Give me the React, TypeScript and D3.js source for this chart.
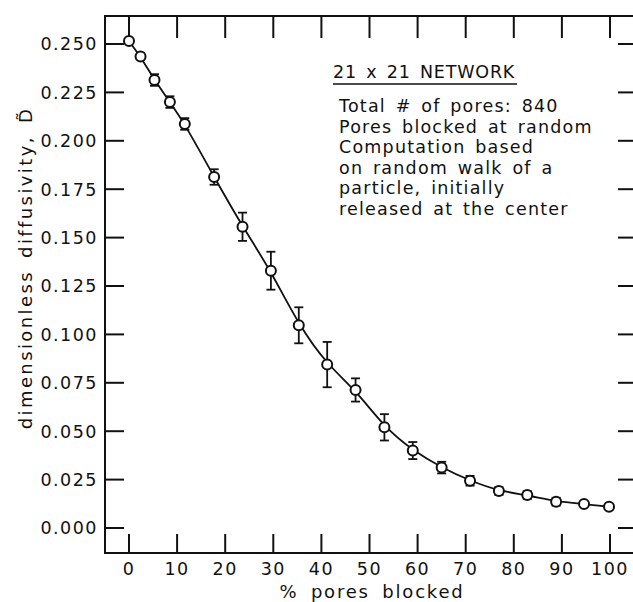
import { useEffect, useRef } from "react";
import * as d3 from "d3";

// values
const pctBlocked = [0, 2.4, 5.3, 8.5, 11.6, 17.7, 23.6, 29.5, 35.3, 41.2, 47.1, 53.1, 59.0, 65.0, 70.9, 76.9, 82.8, 88.8, 94.6, 99.8];
const diffusivity = [0.2515, 0.2435, 0.2314, 0.2200, 0.2087, 0.1813, 0.1556, 0.1329, 0.1047, 0.0844, 0.0713, 0.0520, 0.0400, 0.0312, 0.0244, 0.0191, 0.0170, 0.0136, 0.0124, 0.0110];
const errHalf = [0, 0, 0.003, 0.003, 0.003, 0.004, 0.0073, 0.0098, 0.0093, 0.0117, 0.006, 0.0068, 0.0044, 0.003, 0.0025, 0.002, 0.002, 0.002, 0, 0];

const xTicks = [0, 10, 20, 30, 40, 50, 60, 70, 80, 90, 100];
const yTicks = [0, 0.025, 0.05, 0.075, 0.1, 0.125, 0.15, 0.175, 0.2, 0.225, 0.25];

const noteTitle = "21 x 21 NETWORK";
const noteLines = [
    "Total # of pores: 840",
    "Pores blocked at random",
    "Computation based",
    "on random walk of a",
    "particle, initially",
    "released at the center",
];

export default function App() {
    const ref = useRef<SVGSVGElement>(null);

    useEffect(() => {
        const width = 633;
        const height = 602;
        const font = "'DejaVu Sans', sans-serif";

        const svg = d3.select(ref.current)
            .attr("width", width)
            .attr("height", height);

        svg.selectAll("*").remove();

        // frame edges (right edge sits just past the page)
        const left = 105, top = 16, bottom = 553, right = 637;

        const x = d3.scaleLinear().domain([0, 100]).range([129, 610]);
        const y = d3.scaleLinear().domain([0, 0.25]).range([528, 44]);

        const data = pctBlocked.map((p, i) => ({ p, d: diffusivity[i], e: errHalf[i] }));

        // frame
        svg.append("rect")
            .attr("x", left).attr("y", top)
            .attr("width", right - left).attr("height", bottom - top)
            .attr("fill", "none")
            .attr("stroke", "#111")
            .attr("stroke-width", 2);

        const tickLen = 19;
        const g = svg.append("g").attr("stroke", "#111").attr("stroke-width", 2);

        // x ticks (top and bottom, pointing in)
        g.selectAll(".xt")
            .data(xTicks)
            .join("line")
            .attr("x1", d => x(d)).attr("x2", d => x(d))
            .attr("y1", top).attr("y2", top + tickLen + 3);
        g.selectAll(".xb")
            .data(xTicks)
            .join("line")
            .attr("x1", d => x(d)).attr("x2", d => x(d))
            .attr("y1", bottom).attr("y2", bottom - tickLen);

        // y ticks (left and right)
        g.selectAll(".yl")
            .data(yTicks)
            .join("line")
            .attr("x1", left).attr("x2", left + tickLen)
            .attr("y1", d => y(d)).attr("y2", d => y(d));
        g.selectAll(".yr")
            .data(yTicks)
            .join("line")
            .attr("x1", right).attr("x2", right - tickLen)
            .attr("y1", d => y(d)).attr("y2", d => y(d));

        // tick labels
        svg.append("g")
            .selectAll("text")
            .data(yTicks)
            .join("text")
            .attr("x", 98)
            .attr("y", d => y(d))
            .attr("dy", "0.36em")
            .attr("text-anchor", "end")
            .attr("font-family", font)
            .attr("font-size", 17.5)
            .attr("letter-spacing", 1.5)
            .attr("fill", "#111")
            .text(d => d3.format(".3f")(d));

        svg.append("g")
            .selectAll("text")
            .data(xTicks)
            .join("text")
            .attr("x", d => x(d))
            .attr("y", 575)
            .attr("text-anchor", "middle")
            .attr("font-family", font)
            .attr("font-size", 17.5)
            .attr("letter-spacing", 1.5)
            .attr("fill", "#111")
            .text(d => d);

        // axis titles
        svg.append("text")
            .attr("x", 372)
            .attr("y", 598)
            .attr("text-anchor", "middle")
            .attr("font-family", font)
            .attr("font-size", 18)
            .attr("letter-spacing", 1.8)
            .attr("word-spacing", 5)
            .attr("fill", "#111")
            .text("% pores blocked");

        svg.append("text")
            .attr("transform", "translate(32,268) rotate(-90)")
            .attr("text-anchor", "middle")
            .attr("font-family", font)
            .attr("font-size", 18)
            .attr("letter-spacing", 2.4)
            .attr("word-spacing", 4)
            .attr("fill", "#111")
            .text("dimensionless diffusivity, D\u0303");

        // fitted curve
        const line = d3.line<{ p: number; d: number }>()
            .x(d => x(d.p))
            .y(d => y(d.d))
            .curve(d3.curveBasis);

        svg.append("path")
            .datum(data)
            .attr("fill", "none")
            .attr("stroke", "#111")
            .attr("stroke-width", 1.8)
            .attr("d", line);

        // error bars
        const eb = svg.append("g")
            .attr("stroke", "#111")
            .attr("stroke-width", 1.8);
        const withErr = data.filter(d => d.e > 0);
        eb.selectAll(".v")
            .data(withErr)
            .join("line")
            .attr("x1", d => x(d.p)).attr("x2", d => x(d.p))
            .attr("y1", d => y(d.d + d.e)).attr("y2", d => y(d.d - d.e));
        eb.selectAll(".ct")
            .data(withErr)
            .join("line")
            .attr("x1", d => x(d.p) - 4.5).attr("x2", d => x(d.p) + 4.5)
            .attr("y1", d => y(d.d + d.e)).attr("y2", d => y(d.d + d.e));
        eb.selectAll(".cb")
            .data(withErr)
            .join("line")
            .attr("x1", d => x(d.p) - 4.5).attr("x2", d => x(d.p) + 4.5)
            .attr("y1", d => y(d.d - d.e)).attr("y2", d => y(d.d - d.e));

        // points
        svg.append("g")
            .selectAll("circle")
            .data(data)
            .join("circle")
            .attr("cx", d => x(d.p))
            .attr("cy", d => y(d.d))
            .attr("r", 5)
            .attr("fill", "#fff")
            .attr("stroke", "#111")
            .attr("stroke-width", 2);

        // annotation
        const note = svg.append("g")
            .attr("font-family", font)
            .attr("font-size", 17.5)
            .attr("fill", "#111");

        note.append("text")
            .attr("x", 333)
            .attr("y", 78)
            .attr("letter-spacing", 0.8)
            .attr("word-spacing", 3)
            .text(noteTitle);
        note.append("line")
            .attr("x1", 333).attr("x2", 517)
            .attr("y1", 84).attr("y2", 84)
            .attr("stroke", "#111")
            .attr("stroke-width", 1.5);

        note.selectAll(".ln")
            .data(noteLines)
            .join("text")
            .attr("x", 339)
            .attr("y", (_, i) => 112 + i * 20.6)
            .attr("letter-spacing", 1.2)
            .attr("word-spacing", 3)
            .text(d => d);
    }, []);

    return <svg ref={ref} style={{ position: "absolute", left: 0, top: 0 }}></svg>;
}
